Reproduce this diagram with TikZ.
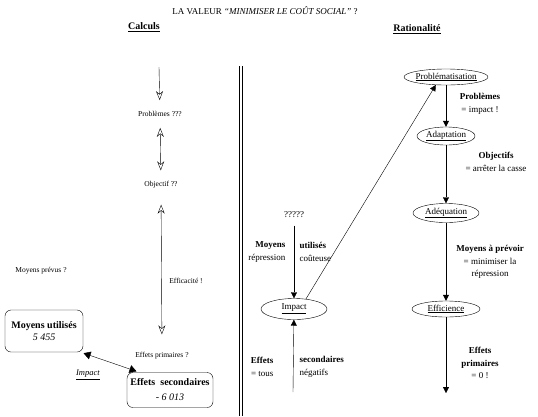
\documentclass[tikz,border=0pt]{standalone}
\usepackage{fontspec}
\setmainfont{Liberation Serif}
\usetikzlibrary{arrows.meta,shapes.geometric}

\begin{document}
\begin{tikzpicture}[
    x=1pt, y=-1pt,
    calc/.style={font=\fontsize{7.5}{9}\selectfont, inner ysep=11pt},
    entete/.style={font=\fontsize{10}{12}\selectfont\bfseries},
    boite/.style={draw, rounded corners=6pt, align=center, font=\fontsize{10}{12}\selectfont, inner sep=2pt},
    etape/.style={ellipse, draw, inner xsep=-20pt, inner ysep=-2pt, font=\fontsize{9}{11}\selectfont},
    note/.style={font=\fontsize{9}{12.5}\selectfont, align=center},
    ouvert/.style={-{Stealth[open, length=9pt, width=7pt]}},
    biouvert/.style={{Stealth[open, length=9pt, width=7pt]}-{Stealth[open, length=9pt, width=7pt]}},
    plein/.style={-{Triangle[length=6pt, width=6pt]}},
    biplein/.style={{Triangle[length=7pt, width=8pt]}-{Triangle[length=7pt, width=8pt]}}
]
\useasboundingbox (0,0) rectangle (538,416);

% Title and column heads
\node[font=\fontsize{9}{11}\selectfont] (titre) at (265,11) {LA VALEUR \textit{“MINIMISER LE COÛT SOCIAL”} ?};
\node[entete] (calculs) at (144,27) {\underline{Calculs}};
\node[entete] (ratio) at (417,29) {\underline{Rationalité}};

% Separator
\foreach \x in {239,242}
    \draw[line width=0.9pt] (\x,66) -- (\x,416);

% Calculs column
\coordinate (haut) at (159,67);
\node[calc] (prob) at (160,114) {Problèmes ???};
\node[calc] (obj) at (161,185) {Objectif ??};
\node[calc] (effprim) at (162,356) {Effets primaires ?};
\node[calc, inner ysep=2pt] (effic) at (186,281) {Efficacité !};
\node[calc, inner ysep=2pt] (prevus) at (41,271) {Moyens prévus ?};

\draw[ouvert] (haut) -- (prob);
\draw[biouvert] (prob) -- (obj);
\draw[biouvert, shorten <=5pt, shorten >=7pt] (obj) -- (effprim);

% Boxes
\node[boite, minimum width=78pt, minimum height=42pt] (moyens) at (44,331)
    {\textbf{Moyens utilisés}\\ \textit{5 455}};
\node[boite, minimum width=86pt, minimum height=35pt] (second) at (170,390)
    {\textbf{Effets\ \ secondaires}\\[3pt] \textit{- 6 013}};
\draw[biplein, shorten <=3pt, shorten >=3pt] (moyens.-30) -- (second.150);
\node[font=\fontsize{8.5}{10}\selectfont] (impactlab) at (88,375) {\underline{\textit{Impact}}};

% Impact
\node[note] (qq) at (294,215) {?????};
\node[etape, minimum width=66pt, minimum height=21pt] (impact) at (294,309) {\underline{Impact}};
\coordinate (bas) at (293,392);
\draw[plein, shorten <=4pt] (qq) -- (impact);
\draw[plein] (bas) -- (impact);

\node[note, anchor=east, align=right] (mg) at (289,252) {\textbf{Moyens}\\répression};
\node[note, anchor=west, align=left] (md) at (296,252) {\textbf{utilisés}\\coûteuse};
\node[note, anchor=east, align=right] (eg) at (277,367) {\textbf{Effets}\\= tous};
\node[note, anchor=west, align=left] (ed) at (296,367) {\textbf{secondaires}\\négatifs};

% Rationalite column
\node[etape, minimum width=84pt, minimum height=16pt] (probl) at (446,77) {\underline{Problématisation}};
\node[etape, minimum width=58pt, minimum height=18pt] (adap) at (446,136) {\underline{Adaptation}};
\node[etape, minimum width=66pt, minimum height=19pt] (adeq) at (446,213) {\underline{Adéquation}};
\node[etape, minimum width=68pt, minimum height=16pt] (effi) at (446,309) {\underline{Efficience}};
\coordinate (fin) at (446,393);

\draw[plein] (probl) -- (adap);
\draw[plein] (adap) -- (adeq);
\draw[plein] (adeq) -- (effi);
\draw[plein] (effi) -- (fin);
\draw[plein] (impact.40) -- (probl.218);

\node[note] (n1) at (480,104) {\textbf{Problèmes}\\= impact !};
\node[note] (n2) at (496,162) {\textbf{Objectifs}\\= arrêter la casse};
\node[note] (n3) at (490,262) {\textbf{Moyens à prévoir}\\= minimiser la\\répression};
\node[note] (n4) at (480,363) {\textbf{Effets}\\\textbf{primaires}\\= 0 !};

\end{tikzpicture}
\end{document}
